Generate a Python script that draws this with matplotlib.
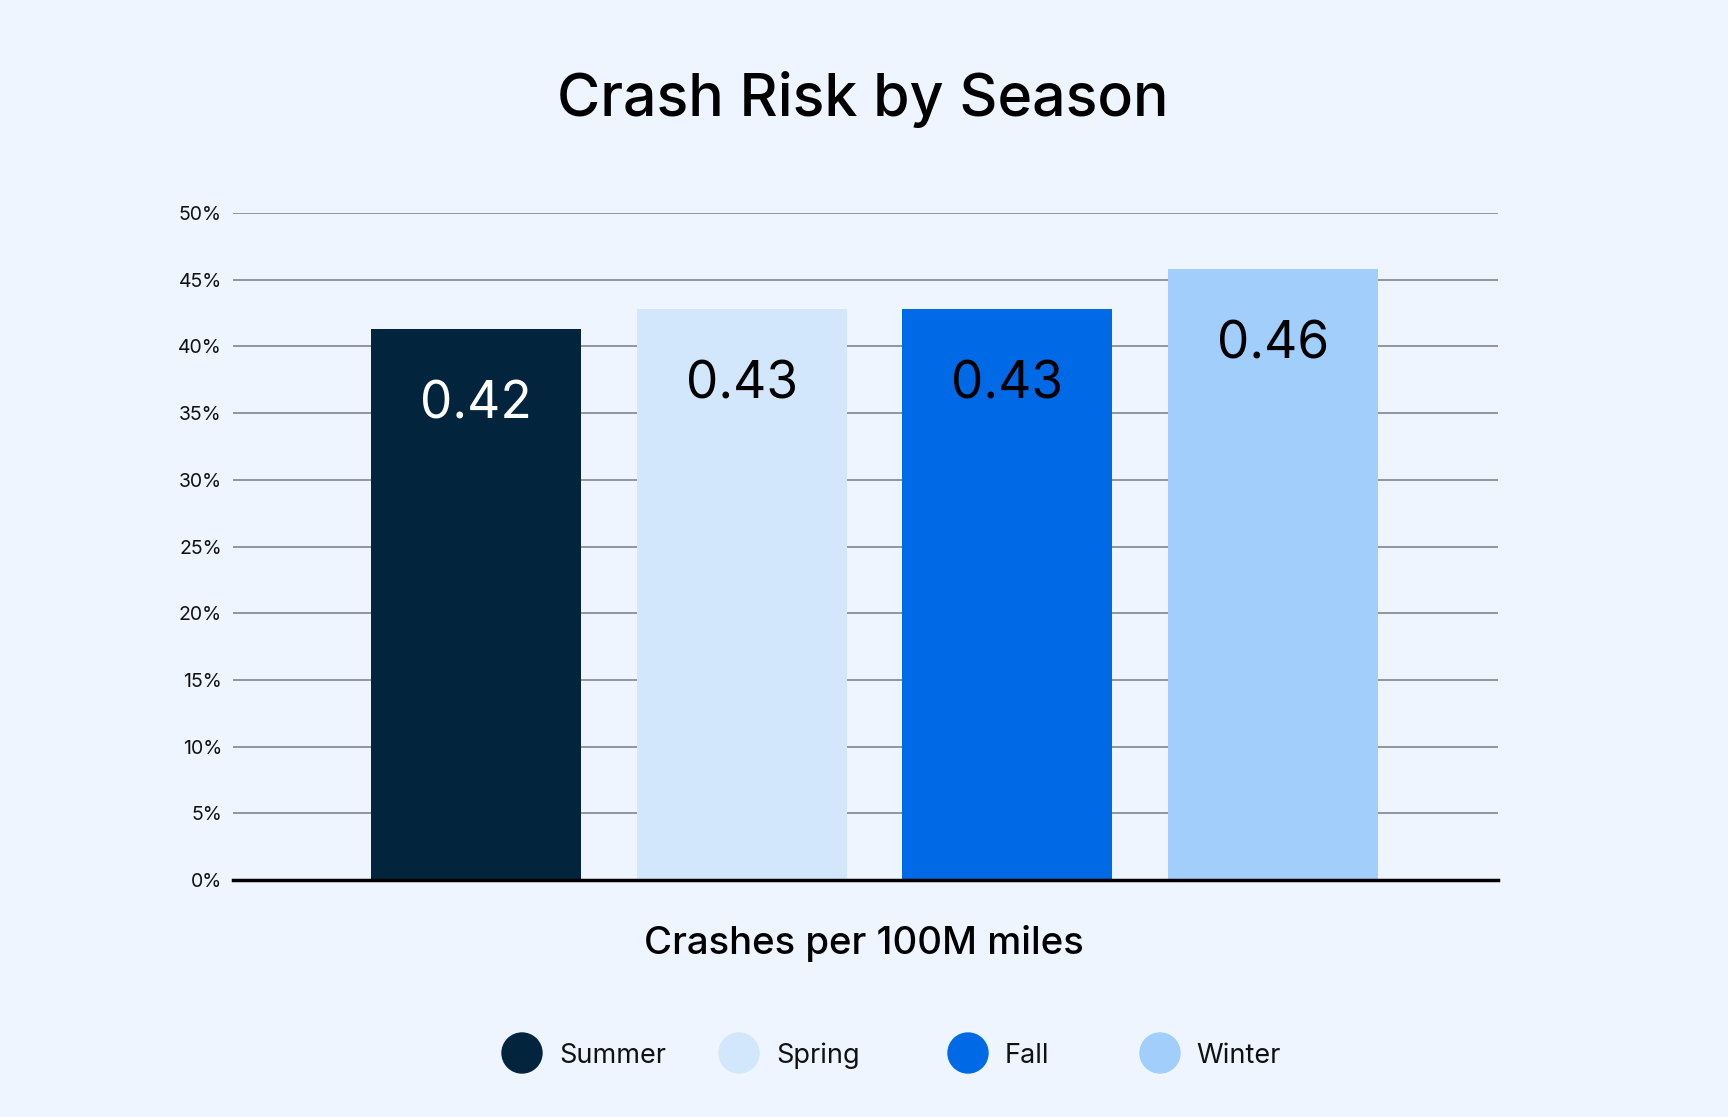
import matplotlib.pyplot as plt
from matplotlib.patches import Ellipse
import numpy as np

plt.rcParams['font.family'] = ['Inter', 'DejaVu Sans']

# Data
seasons = ["Summer", "Spring", "Fall", "Winter"]
crash_pct = [41.3, 42.8, 42.8, 45.8]
bar_labels = ["0.42", "0.43", "0.43", "0.46"]
colors = ["#02253D", "#D3E7FC", "#0069E6", "#A1CEFB"]
label_colors = ["white", "black", "black", "black"]
y_ticks = [0, 5, 10, 15, 20, 25, 30, 35, 40, 45, 50]

bg = "#EEF5FE"
W, H = 1728, 1117

fig = plt.figure(figsize=(W / 100, H / 100), dpi=100, facecolor=bg)

# axes placed in pixel terms: x 233..1498, y 213..880 (from top)
ax = fig.add_axes([233 / W, 1 - 880 / H, (1498 - 233) / W, (880 - 213) / H])
ax.set_facecolor(bg)

x = np.arange(len(seasons))
ax.bar(x, crash_pct, width=0.79, color=colors, zorder=3)

# value labels inside the bars
for xi, val, lab, c in zip(x, crash_pct, bar_labels, label_colors):
    ax.annotate(lab, (xi, val), xytext=(0, -55), textcoords="offset points",
                ha="center", va="center", fontsize=37, color=c, zorder=4)

ax.set_xlim(-0.915, 3.847)
ax.set_ylim(0, 50)
ax.set_yticks(y_ticks)
ax.set_yticklabels([f"{t}%" for t in y_ticks], fontsize=14, color="#111111")
ax.set_xticks([])
ax.tick_params(axis="y", length=0, pad=8)
ax.grid(axis="y", color="#8A8F96", linewidth=1.3, zorder=0)
for s in ["top", "right", "left"]:
    ax.spines[s].set_visible(False)
ax.spines["bottom"].set_linewidth(2.5)
ax.spines["bottom"].set_color("black")
ax.spines["bottom"].set_zorder(5)

# title and axis label
fig.text(863 / W, 1 - 99 / H, "Crash Risk by Season", ha="center", va="center",
         fontsize=42.5, fontweight="medium", color="black")
fig.text(864 / W, 1 - 943 / H, "Crashes per 100M miles", ha="center", va="center",
         fontsize=27.6, fontweight="medium", color="black")

# legend drawn by hand to follow the original spacing
leg_x = [522, 739, 968, 1160]
leg_tx = [559, 776, 1005, 1196]
leg_y = 1053
for lx, tx, name, c in zip(leg_x, leg_tx, seasons, colors):
    fig.add_artist(Ellipse((lx / W, 1 - leg_y / H), 40 / W, 40 / H,
                           transform=fig.transFigure, color=c))
    fig.text(tx / W, 1 - (leg_y + 3) / H, name, ha="left", va="center",
             fontsize=19.5, color="#111111")

fig.savefig("out.png", dpi=100, facecolor=bg)
